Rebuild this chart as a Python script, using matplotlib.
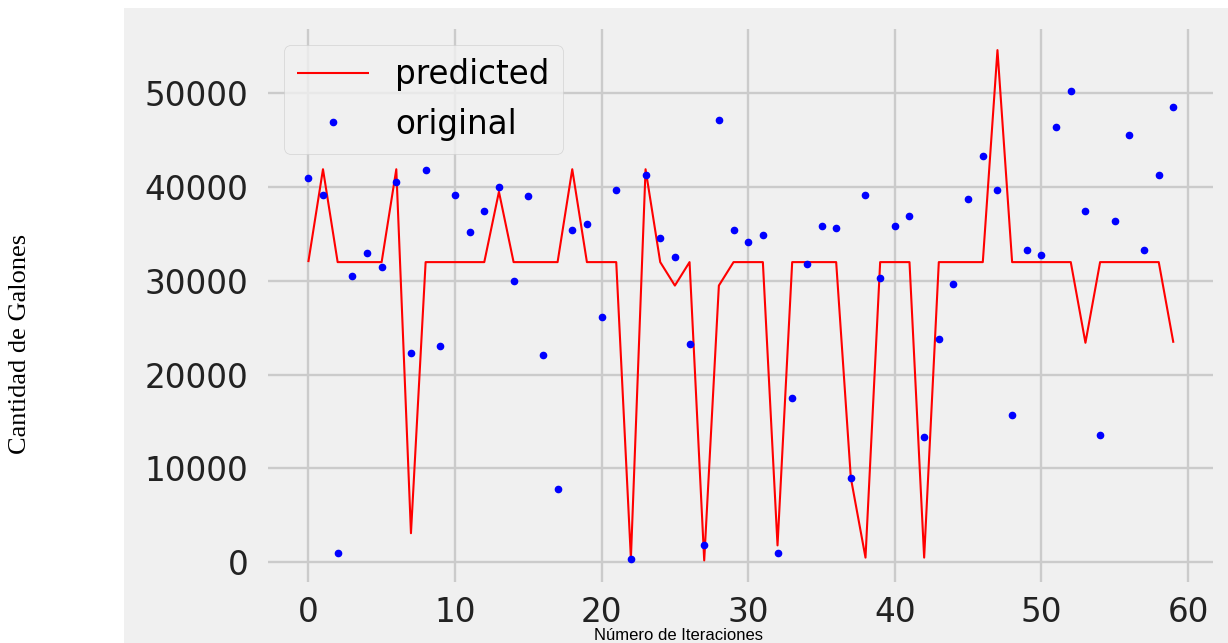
import matplotlib
matplotlib.use("Agg")
import matplotlib.pyplot as plt
from matplotlib.patches import Rectangle
import numpy as np

# valores
iteraciones = np.arange(60)
original = [41000, 39200, 1000, 30500, 33000, 31500, 40500, 22300, 41800, 23100,
            39200, 35200, 37400, 40000, 30000, 39000, 22100, 7800, 35400, 36100,
            26200, 39700, 300, 41300, 34600, 32500, 23300, 1800, 47200, 35400,
            34100, 34900, 1000, 17500, 31800, 35900, 35600, 9000, 39200, 30300,
            35900, 36900, 13400, 23800, 29700, 38700, 43300, 39700, 15700, 33300,
            32800, 46400, 50200, 37500, 13600, 36400, 45600, 33300, 41300, 48500]
predicted = [32000, 41900, 32000, 32000, 32000, 32000, 41900, 3100, 32000, 32000,
             32000, 32000, 32000, 39500, 32000, 32000, 32000, 32000, 41900, 32000,
             32000, 32000, 400, 41900, 32000, 29500, 32000, 200, 29500, 32000,
             32000, 32000, 1800, 32000, 32000, 32000, 32000, 9000, 500, 32000,
             32000, 32000, 500, 32000, 32000, 32000, 32000, 54600, 32000, 32000,
             32000, 32000, 32000, 23400, 32000, 32000, 32000, 32000, 32000, 23400]

plt.style.use('fivethirtyeight')

W, H = 1228, 643
fig = plt.figure(figsize=(W / 100, H / 100), dpi=100, facecolor='white')
# fondo gris de la imagen incrustada
fig.patches.append(Rectangle((124 / W, 0), 1 - 124 / W, (H - 8) / H,
                             transform=fig.transFigure, facecolor='#f0f0f0',
                             edgecolor='none', zorder=-10))

ax = fig.add_axes([268 / W, 61 / H, 945 / W, 553 / H])
ax.set_facecolor('#f0f0f0')
ax.plot(iteraciones, predicted, color='red', linewidth=1.5, label='predicted')
ax.plot(iteraciones, original, '.', color='blue', markersize=9, label='original')

ax.set_xlim(-2.75, 61.7)
ax.set_ylim(-2100, 56850)
ax.set_xticks(range(0, 61, 10))
ax.set_yticks(range(0, 50001, 10000))
ax.grid(True, color='#cbcbcb', linewidth=1.7)
ax.tick_params(axis='both', labelsize=23.5, colors='#222222')
ax.tick_params(axis='x', pad=10)
ax.tick_params(axis='y', pad=14)
for s in ax.spines.values():
    s.set_visible(False)

leg = ax.legend(loc='upper left', fontsize=23.5, handlelength=2.2)

fig.text(20 / W, (H - 344) / H, 'Cantidad de Galones', rotation=90,
         ha='center', va='center', fontsize=19, family='Liberation Serif',
         color='black')
fig.text(679 / W, (H - 635) / H, 'Número de Iteraciones', ha='center',
         va='center', fontsize=12, family='Liberation Sans', color='black')

fig.savefig('out.png', dpi=100, facecolor='white')
